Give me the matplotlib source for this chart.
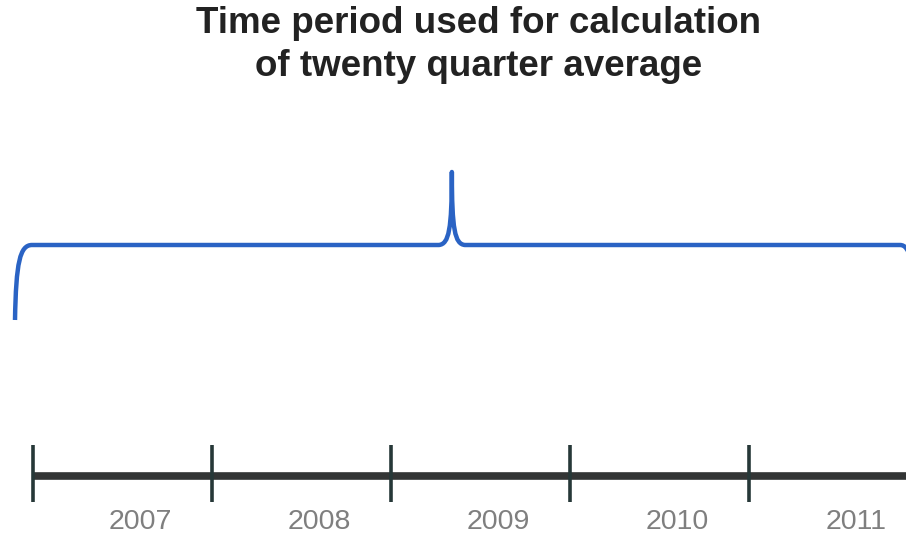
import matplotlib.pyplot as plt
from matplotlib.path import Path
from matplotlib.patches import PathPatch

# timeline data
years = [2007, 2008, 2009, 2010, 2011]
year_labels = ['2007', '2008', '2009', '2010', '2011']
tick_years = [2007, 2008, 2009, 2010, 2011]
title = 'Time period used for calculation\nof twenty quarter average'

# map years onto the canvas (pixel-like units)
px_start, px_per_year = 33, 179


def xpos(year):
    return px_start + (year - years[0]) * px_per_year


fig = plt.figure(figsize=(9.06, 5.38), dpi=100)
ax = fig.add_axes([0, 0, 1, 1])
ax.set_xlim(0, 906)
ax.set_ylim(538, 0)
ax.axis('off')

# title
fig.text(0.528, 0.988, title, ha='center', va='top', fontsize=26.5,
         fontweight='bold', color='#222222', family='Liberation Sans',
         linespacing=1.27)

# timeline bar
line_y = 476
ax.plot([xpos(years[0]), 906], [line_y, line_y], color='#333535',
        lw=5.5, solid_capstyle='butt')
for y in tick_years:
    ax.plot([xpos(y), xpos(y)], [445, 502], color='#263838', lw=2.6,
            solid_capstyle='butt')
for y, lab in zip(years, year_labels):
    ax.text(xpos(y) + 0.6 * px_per_year, 522, lab, ha='center', va='center',
            fontsize=20.5, color='#7f7f7f', family='Liberation Sans')

# curly brace over the five years
left = xpos(years[0]) - 18
right = xpos(years[-1] + 1) - 20
peak = xpos(2009.34)
top, mid = 245, 172
verts = [
    (left, 320),
    (left + 1, 262), (left + 5, top), (left + 17, top),
    (peak - 13, top),
    (peak - 3, top - 1), (peak, top - 15), (peak, mid),
    (peak, top - 15), (peak + 3, top - 1), (peak + 13, top),
    (right - 8, top),
    (right + 2, top), (right + 6, 262), (right + 8, 320),
]
codes = [Path.MOVETO,
         Path.CURVE4, Path.CURVE4, Path.CURVE4,
         Path.LINETO,
         Path.CURVE4, Path.CURVE4, Path.CURVE4,
         Path.CURVE4, Path.CURVE4, Path.CURVE4,
         Path.LINETO,
         Path.CURVE4, Path.CURVE4, Path.CURVE4]
ax.add_patch(PathPatch(Path(verts, codes), fill=False, edgecolor='#2a63c4',
                       lw=3.2, capstyle='butt', joinstyle='round'))

fig.savefig('out.png', dpi=100)
